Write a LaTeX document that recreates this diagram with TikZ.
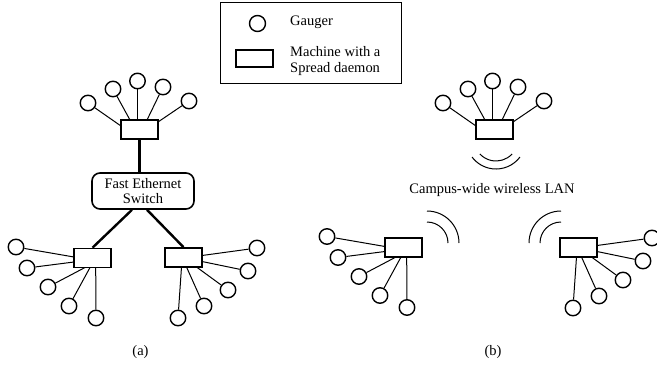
\documentclass[tikz,border=0pt]{standalone}
\usepackage{fontspec}
\setmainfont{Liberation Serif}
\usetikzlibrary{calc}

\begin{document}
\begin{tikzpicture}[x=1pt, y=-1pt,
  gauger/.style={circle, draw, line width=1.4pt, minimum size=15.5pt, inner sep=0pt},
  machine/.style={draw, line width=1.6pt, minimum width=37pt, minimum height=19pt, inner sep=0pt},
  link/.style={line width=1pt},
  trunk/.style={line width=2.4pt},
  wave/.style={line width=1pt},
  label/.style={font=\fontsize{14.5}{15.5}\selectfont, inner sep=0pt},
  % a machine with five gaugers fanned out around it
  pics/fantop/.style={code={
    \node[machine] (-m) at (0,0) {};
    \foreach \i/\cx/\cy/\ex/\ey in {1/-51.5/-26.5/-18.5/-3.5, 2/-26.5/-40.5/-9.5/-9.5,
        3/-2/-48.5/-2/-9.5, 4/23.5/-42.5/7.5/-9.5, 5/49.5/-28.5/18.5/-7.5}{
      \coordinate (-e\i) at (\ex,\ey);
      \node[gauger] (-g\i) at (\cx,\cy) {};
      \draw[link] (-g\i) -- (-e\i);
    }
  }},
  pics/fanleft/.style={code={
    \node[machine] (-m) at (0,0) {};
    \foreach \i/\cx/\cy/\ex/\ey in {1/-76.5/-11/-18.5/-1, 2/-65.5/10/-18.5/4,
        3/-44.5/29/-7.5/9.5, 4/-23.5/48/-2.5/9.5, 5/3.5/60/3.2/9.5}{
      \coordinate (-e\i) at (\ex,\ey);
      \node[gauger] (-g\i) at (\cx,\cy) {};
      \draw[link] (-g\i) -- (-e\i);
    }
  }},
  pics/fanright/.style={code={
    \node[machine] (-m) at (0,0) {};
    \foreach \i/\cx/\cy/\ex/\ey in {1/73.5/-9.5/18.5/-2, 2/64.5/13.5/18.5/4,
        3/44.5/32.5/13/9.5, 4/20.5/48.5/3/9.5, 5/-5.5/60.5/-2/9.5}{
      \coordinate (-e\i) at (\ex,\ey);
      \node[gauger] (-g\i) at (\cx,\cy) {};
      \draw[link] (-g\i) -- (-e\i);
    }
  }}
]
\clip (0,0) rectangle (657,373);

% legend
\node[draw, line width=1pt, minimum width=181pt, minimum height=81pt, inner sep=0pt] (legend) at (310.5,42.5) {};
\node[gauger, minimum size=16pt] (lg) at (257.5,23.5) {};
\node[label, anchor=west] (lgt) at (290,22.5) {Gauger};
\node[machine, minimum width=37.5pt, minimum height=17pt] (lm) at (254.5,58.5) {};
\node[label, anchor=west, align=left, font=\fontsize{14.5}{16}\selectfont] (lmt) at (290,61) {Machine with a\\Spread daemon};

% (a) wired network around a switch
\pic (ta) at (139.5,129.5) {fantop};
\pic (la) at (92.5,258) {fanleft};
\pic (ra) at (183.5,257.5) {fanright};
\node[draw, line width=1.6pt, rounded corners=8pt, minimum width=102pt, minimum height=36pt,
      align=center, label] (sw) at (143,191) {Fast Ethernet\\Switch};
\draw[trunk] (ta-m.south) -- (ta-m.south |- sw.north);
\draw[trunk] ([xshift=-11pt]sw.south) -- (la-m.north);
\draw[trunk] ([xshift=4pt]sw.south) -- (ra-m.north);

% (b) wireless network
\pic (tb) at (494.5,129.5) {fantop};
\pic (lb) at (403.5,247.5) {fanleft};
\pic (rb) at (578.5,247.5) {fanright};
\node[label] (lan) at (492,190) {Campus-wide wireless LAN};

\coordinate (wt) at (496,139);
\draw[wave] ([shift={(43:22)}]wt) arc[start angle=43, end angle=137, radius=22];
\draw[wave] ([shift={(37:30)}]wt) arc[start angle=37, end angle=143, radius=30];

\coordinate (wl) at (427,243);
\draw[wave] ([shift={(-90:21)}]wl) arc[start angle=-90, end angle=0, radius=21];
\draw[wave] ([shift={(-90:32)}]wl) arc[start angle=-90, end angle=0, radius=32];

\coordinate (wr) at (561,243);
\draw[wave] ([shift={(180:21)}]wr) arc[start angle=180, end angle=270, radius=21];
\draw[wave] ([shift={(180:32)}]wr) arc[start angle=180, end angle=270, radius=32];

% captions
\node[label] (capa) at (140.5,352) {(a)};
\node[label] (capb) at (493,352) {(b)};
\end{tikzpicture}
\end{document}
